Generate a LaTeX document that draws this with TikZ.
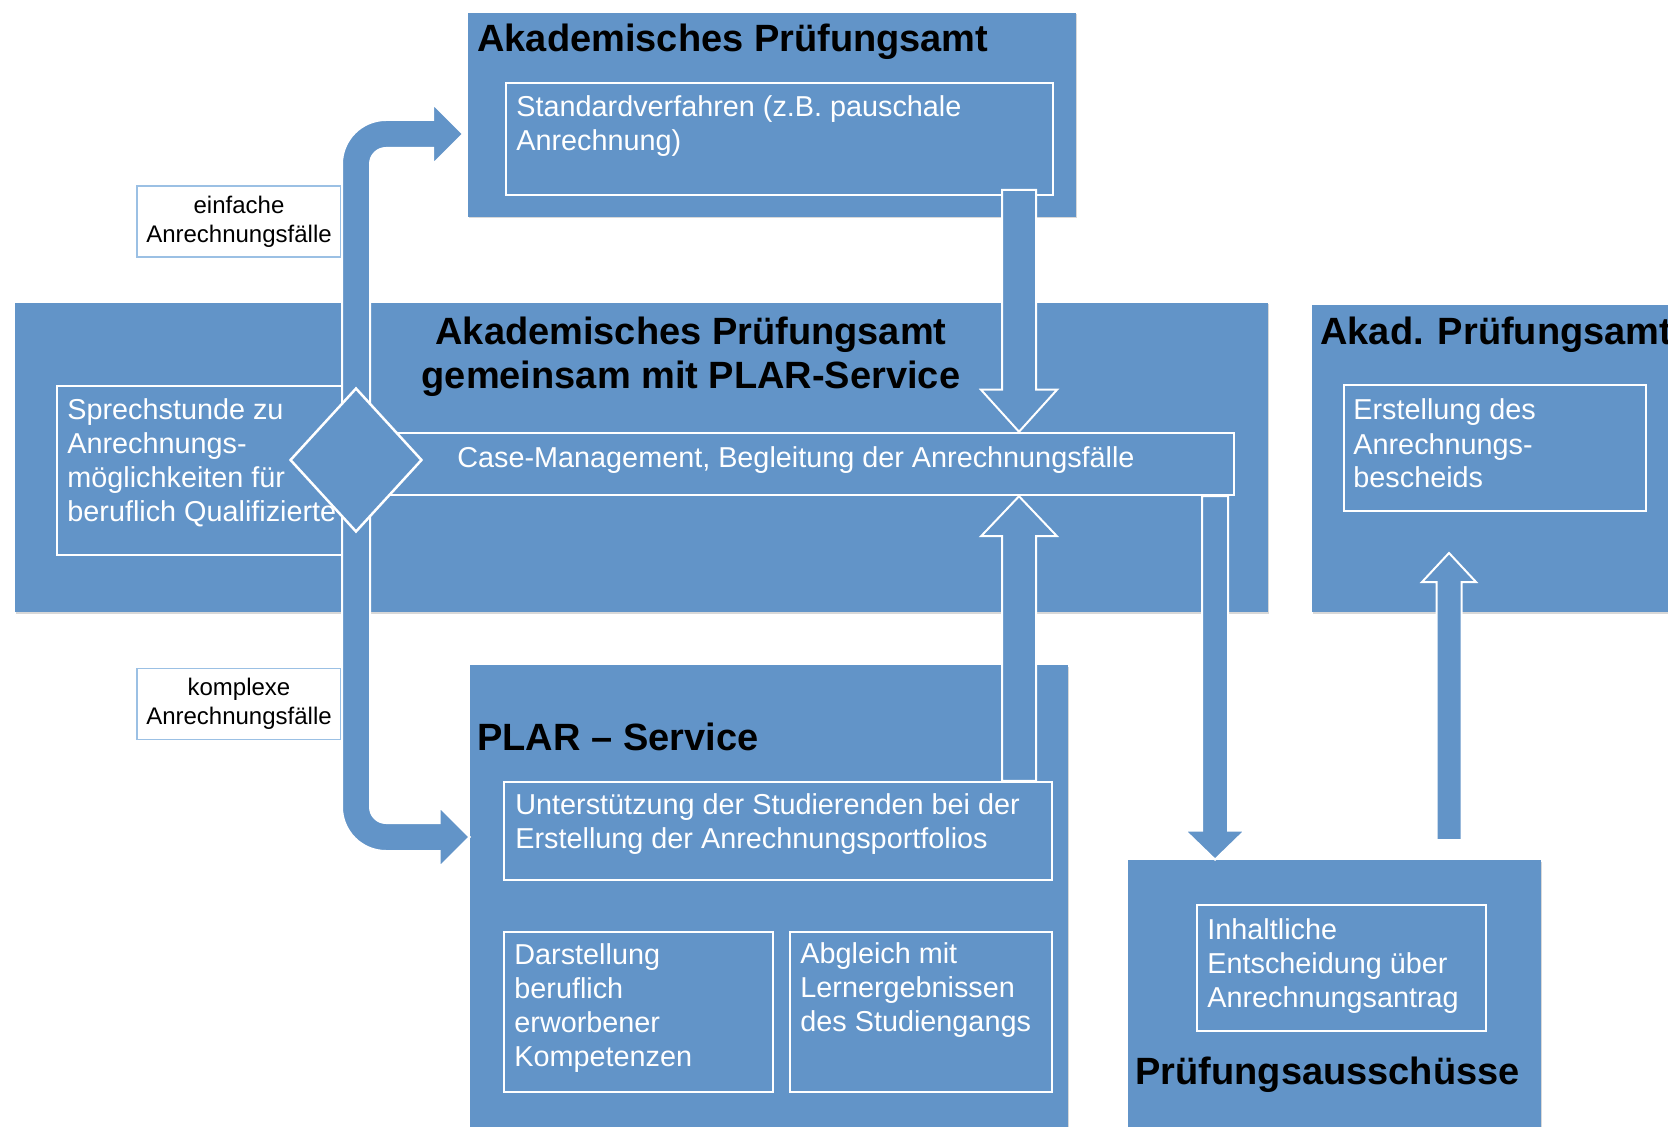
\documentclass[tikz,border=0pt]{standalone}
\usepackage{fontspec}
\setmainfont{Liberation Sans}
\usetikzlibrary{shapes.geometric,calc,shadows}
\definecolor{mblue}{RGB}{98,148,200}
\definecolor{lblue}{RGB}{155,192,228}
% vertical block arrow: from, to, shaft half width, head half width, head length
\newcommand\vblockarrow[5]{%
  \filldraw[blockarrow] let \p1=(#1), \p2=(#2), \n1={sign(\y2-\y1)} in
    ({\x1-#3},\y1) -- ({\x1-#3},{\y2-(\n1)*#5}) -- ({\x1-#4},{\y2-(\n1)*#5})
    -- (\x1,\y2) -- ({\x1+#4},{\y2-(\n1)*#5}) -- ({\x1+#3},{\y2-(\n1)*#5})
    -- ({\x1+#3},\y1) -- cycle;}
\begin{document}
\begin{tikzpicture}[x=0.5pt,y=-0.5pt,
  obox/.style={fill=mblue, draw=none, inner sep=0pt,
    drop shadow={shadow xshift=0.5pt, shadow yshift=-0.75pt, opacity=0.3}},
  ibox/.style={fill=mblue, draw=white, line width=1.25pt, inner sep=0pt},
  wtext/.style={text=white, font=\fontsize{14.4}{17}\selectfont, align=left,
    inner sep=0pt, anchor=base west},
  ttl/.style={text=black, font=\fontsize{19}{22}\selectfont\bfseries,
    inner sep=0pt, anchor=base west},
  lbox/.style={fill=white, draw=lblue, line width=0.9pt,
    font=\fontsize{12}{14.5}\selectfont, align=center,
    minimum width=102pt, minimum height=35.5pt, inner sep=0pt},
  blockarrow/.style={fill=mblue, draw=white, line width=1pt, line join=miter}]
\useasboundingbox (0,0) rectangle (1668,1127);
\clip (0,0) rectangle (1668,1127);
\fill[white] (0,0) rectangle (1668,1127);

% outer boxes
\node[obox, minimum width=304pt, minimum height=102pt] (topbox) at (772,115) {};
\node[obox, minimum width=626.5pt, minimum height=154.5pt] (midbox) at (641.5,457.5) {};
\node[obox, minimum width=194pt, minimum height=153.5pt] (akadbox) at (1506,458.5) {};
\node[obox, minimum width=299pt, minimum height=247.5pt] (plarbox) at (769,912.5) {};
\node[obox, minimum width=206.5pt, minimum height=150pt] (pabox) at (1334.5,1010) {};

% inner boxes
\node[ibox, minimum width=273.5pt, minimum height=56pt] (std) at (779.5,139) {};
\node[ibox, minimum width=146.5pt, minimum height=84.5pt] (sprech) at (203.5,470.5) {};
\node[ibox, minimum width=436pt, minimum height=31pt] (case) at (798,464) {};
\node[ibox, minimum width=151pt, minimum height=63pt] (erst) at (1495,448) {};
\node[ibox, minimum width=274pt, minimum height=49pt] (unt) at (778,831) {};
\node[ibox, minimum width=134.5pt, minimum height=80pt] (darst) at (638.5,1012) {};
\node[ibox, minimum width=131pt, minimum height=80pt] (abgl) at (921,1012) {};
\node[ibox, minimum width=144.5pt, minimum height=63pt] (inh) at (1341.5,968) {};

% texts in inner boxes (anchor = baseline of the last line)
\node[wtext] (stdtxt) at (516,151) {Standardverfahren (z.B. pauschale\\Anrechnung)};
\node[wtext] (sprtxt) at (67,522) {Sprechstunde zu\\Anrechnungs-\\möglichkeiten für\\beruflich Qualifizierte};
\node[wtext, anchor=base] (casetxt) at (796,468) {Case-Management, Begleitung der Anrechnungsfälle};
\node[wtext] (ersttxt) at (1353,488) {Erstellung des\\Anrechnungs-\\bescheids};
\node[wtext] (unttxt) at (515,848) {Unterstützung der Studierenden bei der\\Erstellung der Anrechnungsportfolios};
\node[wtext] (darsttxt) at (514,1066) {Darstellung\\beruflich\\erworbener\\Kompetenzen};
\node[wtext] (abgltxt) at (800,1031) {Abgleich mit\\Lernergebnissen\\des Studiengangs};
\node[wtext] (inhtxt) at (1207,1007) {Inhaltliche\\Entscheidung über\\Anrechnungsantrag};

% titles
\node[ttl] (toptitle) at (477,52) {Akademisches Prüfungsamt};
\node[ttl, anchor=base, align=center] (midtitle) at (691,389) {Akademisches Prüfungsamt\\gemeinsam mit PLAR-Service};
\node[ttl] (akadtitle) at (1320,345) {Akad. Prüfungsamt};
\node[ttl] (plartitle) at (477,750) {PLAR -- Service};
\node[ttl] (patitle) at (1135,1084) {Prüfungsausschüsse};

% label boxes
\node[lbox] (einf) at (239,221.5) {einfache\\Anrechnungsfälle};
\node[lbox] (kompl) at (239,704) {komplexe\\Anrechnungsfälle};

% vertical block arrows
\coordinate (ax1) at (1019,190);
\vblockarrow{ax1}{ax1 |- case.north}{8.5pt}{19pt}{21pt}
\vblockarrow{ax1 |- unt.north}{ax1 |- case.south}{8.5pt}{19pt}{20pt}
\coordinate (ax3) at (1215,0);
\vblockarrow{ax3 |- case.south}{ax3 |- pabox.north}{6.5pt}{15pt}{14.5pt}
\coordinate (ax4s) at (1449,840);
\coordinate (ax4e) at (1449,553);
\vblockarrow{ax4s}{ax4e}{6.25pt}{13.5pt}{14.5pt}

% bent arrows from the decision diamond
\coordinate (dc) at (356,460);
\coordinate (t1) at (463,134);
\coordinate (y2) at (0,837);
\coordinate (t2) at (plarbox.west |- y2);
\filldraw[blockarrow] let \p1=(dc), \p2=(t1) in
  ({\x1-7pt},\y1) -- ({\x1-7pt},{\y2-15pt}) arc[start angle=180,end angle=90,radius=22pt]
  -- ({\x2-15pt},{\y2+7pt}) -- ({\x2-15pt},{\y2+15pt}) -- (\x2,\y2)
  -- ({\x2-15pt},{\y2-15pt}) -- ({\x2-15pt},{\y2-7pt}) -- ({\x1+15pt},{\y2-7pt})
  arc[start angle=90,end angle=180,radius=8pt] -- ({\x1+7pt},\y1) -- cycle;
\filldraw[blockarrow] let \p1=(dc), \p2=(t2) in
  ({\x1-7pt},\y1) -- ({\x1-7pt},{\y2+15pt}) arc[start angle=180,end angle=270,radius=22pt]
  -- ({\x2-15pt},{\y2-7pt}) -- ({\x2-15pt},{\y2-15pt}) -- (\x2,\y2)
  -- ({\x2-15pt},{\y2+15pt}) -- ({\x2-15pt},{\y2+7pt}) -- ({\x1+15pt},{\y2+7pt})
  arc[start angle=270,end angle=180,radius=8pt] -- ({\x1+7pt},\y1) -- cycle;

% decision diamond
\node[diamond, fill=mblue, draw=white, line width=1.25pt, inner sep=0pt,
  minimum width=66pt, minimum height=72pt] (dia) at (dc) {};
\end{tikzpicture}
\end{document}
